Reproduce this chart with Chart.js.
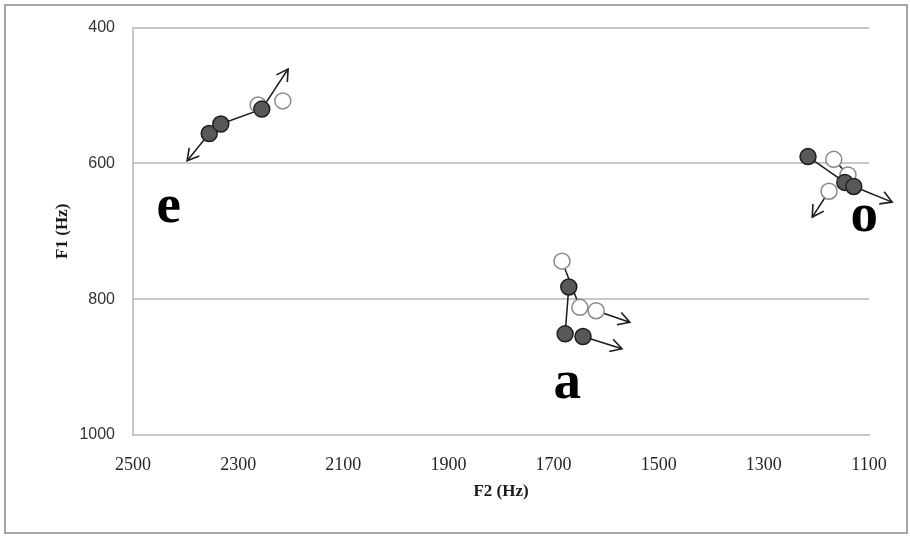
<!DOCTYPE html>
<html>
<head>
<meta charset="utf-8">
<script src="https://cdn.jsdelivr.net/npm/chart.js@4.4.1/dist/chart.umd.min.js"></script>
<style>
  html, body { margin: 0; padding: 0; background: #ffffff; }
  #wrap { width: 910px; height: 536px; }
</style>
</head>
<body>
<div id="wrap"><canvas id="c" width="910" height="536"></canvas></div>
<script>
// ---- data (F2 in Hz on x, F1 in Hz on y) ----
const xTicks = [2500, 2300, 2100, 1900, 1700, 1500, 1300, 1100];
const yTicks = [400, 600, 800, 1000];

const filledF2 = [2355, 2333, 2255, 1671, 1678, 1644, 1216, 1146, 1129];
const filledF1 = [556, 542, 520, 782, 851, 855, 590, 628, 634];

const openF2 = [2262, 2215, 1684, 1650, 1619, 1167, 1140, 1176];
const openF1 = [514, 508, 744, 812, 817, 594, 617, 641];

// connector segments: [fromF2, fromF1, toF2, toF1]
const connectors = [
  [2333, 542, 2255, 520],
  [1684, 744, 1650, 812],
  [1671, 782, 1678, 851],
  [1216, 590, 1146, 628],
  [1167, 594, 1140, 617]
];
// arrows: [fromF2, fromF1, toF2, toF1]
const arrows = [
  [2355, 556, 2397, 596],
  [2255, 520, 2205, 461],
  [1619, 817, 1555, 834],
  [1644, 855, 1570, 873],
  [1129, 634, 1056, 657],
  [1176, 641, 1208, 679]
];
// vowel labels: text, F2, F1 (baseline position)
const vowelText = ['e', 'a', 'o'];
const vowelF2 = [2432, 1674, 1109];
const vowelF1 = [686, 946, 699];

// ---- build datasets ----
const toPts = (xs, ys) => xs.map((x, i) => ({ x: x, y: ys[i] }));
const datasets = [];
datasets.push({
  label: 'filled', data: toPts(filledF2, filledF1), showLine: false,
  pointRadius: 8, pointHoverRadius: 8, pointBackgroundColor: '#585858',
  pointBorderColor: '#1e1e1e', pointBorderWidth: 1.5, order: 0
});
datasets.push({
  label: 'open', data: toPts(openF2, openF1), showLine: false,
  pointRadius: 8, pointHoverRadius: 8, pointBackgroundColor: '#ffffff',
  pointBorderColor: '#8a8a8a', pointBorderWidth: 1.5, order: 1
});
connectors.forEach((s, i) => datasets.push({
  label: 'conn' + i, data: [{ x: s[0], y: s[1] }, { x: s[2], y: s[3] }],
  showLine: true, pointRadius: 0, borderColor: '#1a1a1a', borderWidth: 1.5, order: 5
}));
arrows.forEach((s, i) => datasets.push({
  label: 'arrow' + i, data: [{ x: s[0], y: s[1] }, { x: s[2], y: s[3] }],
  showLine: true, pointRadius: 0, borderColor: '#1a1a1a', borderWidth: 1.5, order: 5,
  clip: false, isArrow: true
}));

const arrowHeads = {
  id: 'arrowHeads',
  afterDatasetsDraw(chart) {
    const ctx = chart.ctx;
    chart.data.datasets.forEach((ds, i) => {
      if (!ds.isArrow) return;
      const pts = chart.getDatasetMeta(i).data;
      const a = pts[0], b = pts[1];
      const ang = Math.atan2(b.y - a.y, b.x - a.x);
      const L = 13, spread = Math.PI / 6;
      ctx.save();
      ctx.strokeStyle = '#1a1a1a';
      ctx.lineWidth = 1.6;
      ctx.beginPath();
      ctx.moveTo(b.x - L * Math.cos(ang - spread), b.y - L * Math.sin(ang - spread));
      ctx.lineTo(b.x, b.y);
      ctx.lineTo(b.x - L * Math.cos(ang + spread), b.y - L * Math.sin(ang + spread));
      ctx.stroke();
      ctx.restore();
    });
  }
};

const vowelLabels = {
  id: 'vowelLabels',
  afterDatasetsDraw(chart) {
    const ctx = chart.ctx;
    const xs = chart.scales.x, ys = chart.scales.y;
    ctx.save();
    ctx.fillStyle = '#000000';
    ctx.font = 'bold 55px "Liberation Serif", "Times New Roman", serif';
    ctx.textAlign = 'center';
    ctx.textBaseline = 'alphabetic';
    vowelText.forEach((t, i) => {
      ctx.fillText(t, xs.getPixelForValue(vowelF2[i]), ys.getPixelForValue(vowelF1[i]));
    });
    ctx.restore();
  }
};

const outerFrame = {
  id: 'outerFrame',
  beforeDraw(chart) {
    const ctx = chart.ctx;
    ctx.save();
    ctx.fillStyle = '#ffffff';
    ctx.fillRect(0, 0, chart.width, chart.height);
    ctx.strokeStyle = '#a6a6a6';
    ctx.lineWidth = 2;
    ctx.strokeRect(5, 5, 902, 528);
    ctx.restore();
  }
};

new Chart(document.getElementById('c'), {
  type: 'scatter',
  data: { datasets: datasets },
  plugins: [outerFrame, arrowHeads, vowelLabels],
  options: {
    responsive: false,
    animation: false,
    events: [],
    layout: { padding: { left: 0, top: 24, right: 41, bottom: 0 } },
    plugins: { legend: { display: false }, tooltip: { enabled: false } },
    scales: {
      x: {
        type: 'linear', reverse: true, min: 1100, max: 2500,
        afterBuildTicks(scale) { scale.ticks = xTicks.map(v => ({ value: v })); },
        afterFit(scale) { scale.height = 101; },
        grid: { display: false, drawTicks: false },
        border: { display: true, color: '#c8c8c8', width: 2 },
        ticks: {
          padding: 19, color: '#262626',
          callback: v => String(v),
          font: { family: '"Liberation Serif", "Times New Roman", serif', size: 18 }
        },
        title: {
          display: true, text: 'F2 (Hz)', color: '#1a1a1a',
          font: { family: '"Liberation Serif", "Times New Roman", serif', size: 17, weight: 'bold' },
          padding: { top: 0, bottom: 34 }
        }
      },
      y: {
        type: 'linear', reverse: true, min: 400, max: 1000,
        afterBuildTicks(scale) { scale.ticks = yTicks.map(v => ({ value: v })); },
        afterFit(scale) { scale.width = 133; },
        grid: { color: '#c8c8c8', lineWidth: 2, drawTicks: false },
        border: { display: true, color: '#c8c8c8', width: 2 },
        ticks: {
          padding: 18, color: '#333333',
          callback: v => String(v),
          font: { family: '"Liberation Sans", Arial, sans-serif', size: 16 }
        },
        title: {
          display: true, text: 'F1 (Hz)', color: '#1a1a1a',
          font: { family: '"Liberation Serif", "Times New Roman", serif', size: 17, weight: 'bold' },
          padding: { top: 52, bottom: 0 }
        }
      }
    }
  }
});
</script>
</body>
</html>
